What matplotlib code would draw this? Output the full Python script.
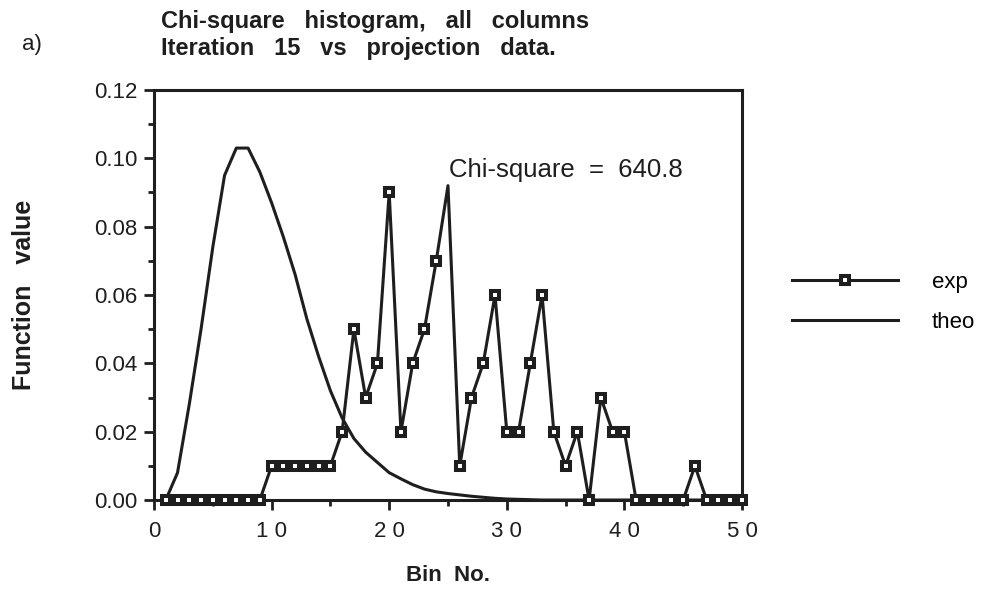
import matplotlib
matplotlib.use("Agg")
import matplotlib.pyplot as plt
import numpy as np

plt.rcParams['font.family'] = ['Liberation Sans', 'DejaVu Sans']

bins = list(range(1, 51))
exp_vals = [0, 0, 0, 0, 0, 0, 0, 0, 0,
            0.01, 0.01, 0.01, 0.01, 0.01, 0.01,
            0.02, 0.05, 0.03, 0.04, 0.09, 0.02, 0.04, 0.05, 0.07, 0.092,
            0.01, 0.03, 0.04, 0.06, 0.02, 0.02, 0.04, 0.06, 0.02, 0.01,
            0.02, 0.0, 0.03, 0.02, 0.02,
            0, 0, 0, 0, 0, 0.01, 0, 0, 0, 0]
theo_vals = [0.0, 0.008, 0.028, 0.050, 0.074, 0.095, 0.103, 0.103, 0.096, 0.087,
             0.077, 0.066, 0.053, 0.042, 0.032, 0.024, 0.018, 0.014, 0.011, 0.008,
             0.0062, 0.0045, 0.0032, 0.0024, 0.0019, 0.0015, 0.0011, 0.0008, 0.0005, 0.0003,
             0.0002, 0.0001, 0, 0, 0, 0, 0, 0, 0, 0,
             0, 0, 0, 0, 0, 0, 0, 0, 0, 0]
x_ticks = [0, 10, 20, 30, 40, 50]
x_tick_labels = ["0", "1 0", "2 0", "3 0", "4 0", "5 0"]
y_ticks = [0.00, 0.02, 0.04, 0.06, 0.08, 0.10, 0.12]
y_tick_labels = ["0.00", "0.02", "0.04", "0.06", "0.08", "0.10", "0.12"]

INK = '#1e1e1e'

fig = plt.figure(figsize=(9.91, 5.90), dpi=100)
ax = fig.add_axes([0.1554, 0.1525, 0.5933, 0.695])

marker_idx = [i for i in range(len(bins)) if i != 24]
l1, = ax.plot(bins, exp_vals, color=INK, lw=2.2, marker='s', markersize=6.4,
              markerfacecolor='white', markeredgecolor=INK, markeredgewidth=2.9,
              markevery=marker_idx, label='exp', clip_on=False, zorder=3)
l2, = ax.plot(bins, theo_vals, color=INK, lw=2.2, label='theo', zorder=2)

ax.set_xlim(0, 50)
ax.set_ylim(0, 0.12)
ax.set_xticks(x_ticks)
ax.set_xticklabels(x_tick_labels)
ax.set_xticks(np.arange(0, 51, 5), minor=True)
ax.set_yticks(y_ticks)
ax.set_yticklabels(y_tick_labels)
ax.set_yticks(np.arange(0, 0.121, 0.01), minor=True)
ax.tick_params(axis='both', which='major', direction='out', length=7, width=2.0,
               labelsize=16, colors=INK)
ax.tick_params(axis='y', which='major', pad=5)
ax.tick_params(axis='x', which='major', pad=8)
ax.tick_params(axis='both', which='minor', direction='out', length=4, width=2.0, colors=INK)
for s in ax.spines.values():
    s.set_linewidth(2.2)
    s.set_color(INK)

ax.set_xlabel("Bin  No.", fontsize=16, fontweight='bold', labelpad=17, color=INK)
ax.set_ylabel("Function   value", fontsize=18, fontweight='bold', labelpad=42, color=INK)

ax.text(25.1, 0.0965, "Chi-square  =  640.8", fontsize=18.5, va='center', ha='left', color=INK)

fig.text(0.162, 0.963, "Chi-square   histogram,   all   columns", fontsize=17, fontweight='bold',
         ha='left', va='center', color=INK)
fig.text(0.162, 0.917, "Iteration   15   vs   projection   data.", fontsize=17, fontweight='bold',
         ha='left', va='center', color=INK)
fig.text(0.022, 0.924, "a)", fontsize=16, ha='left', va='center', color=INK)

leg = fig.legend(handles=[l1, l2], loc='center left', bbox_to_anchor=(0.799, 0.487),
                 frameon=False, handlelength=4.8, handletextpad=1.5, fontsize=16,
                 labelspacing=0.85, borderpad=0, borderaxespad=0)

fig.savefig("out.png", dpi=100)
